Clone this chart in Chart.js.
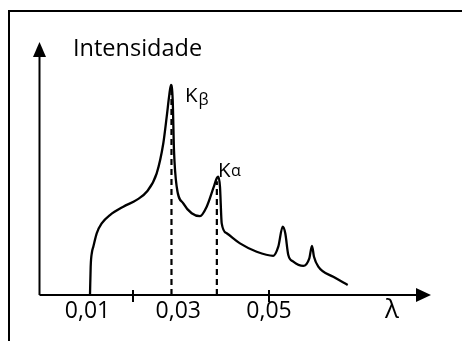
<!DOCTYPE html>
<html><head><meta charset="utf-8">
<script src="https://cdn.jsdelivr.net/npm/chart.js@4/dist/chart.umd.min.js"></script>
<style>html,body{margin:0;padding:0;background:#fff;}canvas{display:block;}</style>
</head><body>
<canvas id="c" width="462" height="341"></canvas>
<script>
// Wavelength (λ) sample points
const lambdaValues = [0.01054,0.01069,0.01098,0.01127,0.01202,0.01312,0.01495,0.01788,0.02083,0.02304,0.02524,0.02670,0.02745,0.02802,0.02839,0.02877,0.02905,0.02965,0.03110,0.03295,0.03478,0.03626,0.03772,0.03847,0.03882,0.03919,0.03957,0.04067,0.04360,0.04728,0.05094,0.05204,0.05301,0.05358,0.05425,0.05535,0.05755,0.05888,0.05947,0.05991,0.06086,0.06416,0.06734];
// Intensity (arbitrary units, 0–100)
const intensityValues = [0,11.2,17.0,19.1,24.4,28.3,31.6,34.9,37.6,40.8,48.1,60.0,70.5,79.1,83.0,77.1,57.3,42.8,36.2,32.3,31.2,34.9,42.2,46.1,46.8,42.8,28.3,24.4,20.4,17.1,15.5,19.1,27.0,24.4,15.8,13.2,11.5,14.5,19.4,15.1,11.2,7.2,4.0];
// Axis ticks
const tickValues = [0.01, 0.02, 0.03, 0.05];
const tickLabels = ['0,01', '', '0,03', '0,05'];
const tickMarkValues = [0.02, 0.05];
// Characteristic lines
const peakBase = ['K', 'K'];
const peakSub = ['β', 'α'];
const peakLambda = [0.0285, 0.0385];
const peakTop = [82, 45];
const xRange = [-0.0007, 0.0857];
const yRange = [0, 100];
const yTitle = 'Intensidade';
const xTitle = 'λ';

const curve = lambdaValues.map((x, i) => ({x, y: intensityValues[i]}));
const dashSets = peakLambda.map((x, i) => ({
  data: [{x, y: 0}, {x, y: peakTop[i]}],
  borderColor: '#000', borderWidth: 2.2, borderDash: [6, 4], pointRadius: 0, tension: 0, fill: false
}));

const deco = {
  id: 'deco',
  afterDraw(chart) {
    const ctx = chart.ctx, a = chart.chartArea;
    const xs = chart.scales.x;
    ctx.save();
    ctx.strokeStyle = '#000'; ctx.fillStyle = '#000';
    // frame
    ctx.lineWidth = 2;
    ctx.beginPath(); ctx.moveTo(9, 341); ctx.lineTo(9, 11); ctx.lineTo(462, 11); ctx.stroke();
    // axes
    const ox = a.left + 0.5, oy = a.bottom;
    ctx.beginPath(); ctx.moveTo(ox, oy); ctx.lineTo(ox, a.top + 12); ctx.stroke();
    ctx.beginPath(); ctx.moveTo(ox, oy); ctx.lineTo(a.right - 12, oy); ctx.stroke();
    ctx.beginPath(); ctx.moveTo(ox, a.top); ctx.lineTo(ox - 6.5, a.top + 15); ctx.lineTo(ox + 6.5, a.top + 15); ctx.closePath(); ctx.fill();
    ctx.beginPath(); ctx.moveTo(a.right, oy); ctx.lineTo(a.right - 15, oy - 7); ctx.lineTo(a.right - 15, oy + 7); ctx.closePath(); ctx.fill();
    // tick marks
    tickMarkValues.forEach(v => {
      const px = Math.round(xs.getPixelForValue(v));
      ctx.beginPath(); ctx.moveTo(px, oy - 5); ctx.lineTo(px, oy + 7); ctx.stroke();
    });
    // texts
    ctx.textBaseline = 'alphabetic'; ctx.textAlign = 'left';
    ctx.font = '23.5px "Open Sans"';
    ctx.fillText(yTitle, 73, 56);
    const kPos = [[185, 101.5, 198.5, 104.5], [218, 177, 231, 176]];
    peakBase.forEach((b, i) => {
      ctx.font = '20.5px "Open Sans"';
      ctx.fillText(b, kPos[i][0], kPos[i][1]);
      ctx.font = '16px "Open Sans"';
      ctx.fillText(peakSub[i], kPos[i][2], kPos[i][3]);
    });
    ctx.textAlign = 'center';
    ctx.font = '26px "Open Sans"';
    ctx.fillText(xTitle, 392, 318);
    ctx.restore();
  }
};

new Chart(document.getElementById('c'), {
  type: 'line',
  data: {
    datasets: [
      {data: curve, borderColor: '#000', borderWidth: 2.3, pointRadius: 0, cubicInterpolationMode: 'monotone', fill: false},
      ...dashSets
    ]
  },
  options: {
    responsive: false, animation: false, devicePixelRatio: 1,
    layout: {padding: {left: 39, top: 42, right: 31, bottom: 12.4}},
    plugins: {legend: {display: false}, tooltip: {enabled: false}},
    scales: {
      x: {
        type: 'linear', min: xRange[0], max: xRange[1],
        afterBuildTicks: s => { s.ticks = tickValues.map(v => ({value: v})); },
        ticks: {
          autoSkip: false, maxRotation: 0, padding: 3, color: '#000',
          font: {family: 'Open Sans', size: 23},
          callback: v => { const i = tickValues.indexOf(v); return i >= 0 ? tickLabels[i] : ''; }
        },
        grid: {display: false, drawTicks: false, tickLength: 0},
        border: {display: false}
      },
      y: {display: false, min: yRange[0], max: yRange[1]}
    }
  },
  plugins: [deco]
});
</script>
</body></html>
